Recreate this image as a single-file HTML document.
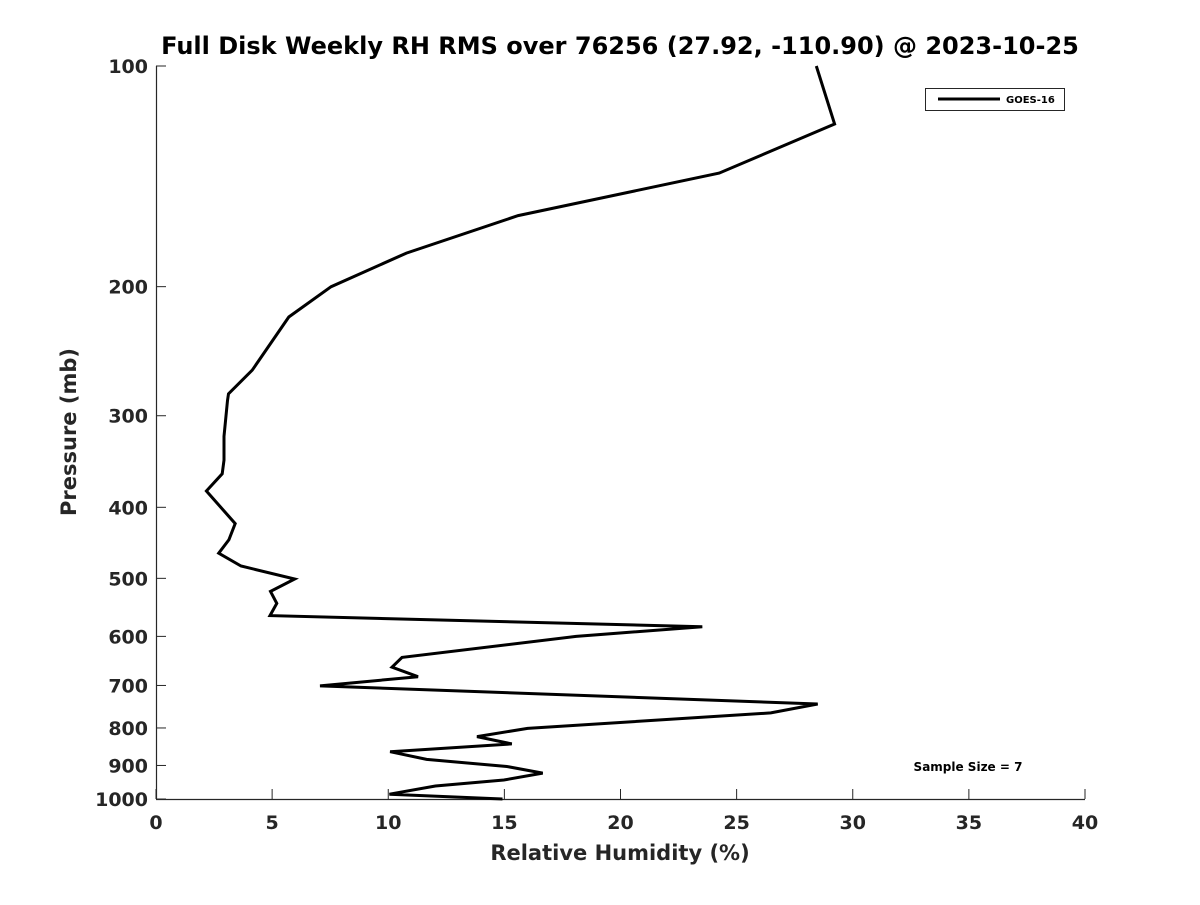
<!DOCTYPE html>
<html><head><meta charset="utf-8"><style>
html,body{margin:0;padding:0;background:#fff;}
svg text{font-family:"DejaVu Sans","Liberation Sans",sans-serif;font-weight:bold;fill:#262626;}
</style></head><body>
<svg id="chart" width="1200" height="900" xmlns="http://www.w3.org/2000/svg">
<rect width="1200" height="900" fill="#fff"/>
<text x="620" y="54" text-anchor="middle" font-size="24" style="fill:#000">Full Disk Weekly RH RMS over 76256 (27.92, -110.90) @ 2023-10-25</text>
<g id="axes"></g>
<g id="series"></g>
<g>
<rect x="925.5" y="88.5" width="139" height="22" fill="#fff" stroke="#262626" stroke-width="1"/>
<line x1="938" y1="99" x2="1000" y2="99" stroke="#000" stroke-width="3"/>
<text x="1006" y="103" font-size="10" style="fill:#000">GOES-16</text>
</g>
<text x="968" y="771" text-anchor="middle" font-size="12" style="fill:#000">Sample Size = 7</text>
<text x="620" y="860" text-anchor="middle" font-size="21">Relative Humidity (%)</text>
<text transform="translate(76,432) rotate(-90)" text-anchor="middle" font-size="21">Pressure (mb)</text>
</svg>
<script>
const rhValues=[28.43,29.22,24.25,15.59,10.78,7.54,5.72,4.14,3.12,3.08,2.93,2.93,2.85,2.17,3.41,3.14,2.70,3.66,5.97,4.93,5.20,4.91,23.52,18.09,10.59,10.16,11.28,7.06,28.49,26.47,16.0,13.82,15.32,10.08,11.65,15.11,16.65,14.98,12.03,10.05,14.92];
const pressureLevels=[100,120,140,160,180,200,220,260,280,286,320,345,360,380,421,443,462,481,501,521,541,562,582,600,641,661,681,701,742,763,801,822,841,862,883,903,922,942,960,985,1000];
const xTicks=[0,5,10,15,20,25,30,35,40];
const yTicks=[100,200,300,400,500,600,700,800,900,1000];
const L=156,R=1085,T=66,B=799;
function xs(v){return L+(v-0)/(40-0)*(R-L);}
function ys(p){return T+(Math.log10(p)-2)/(3-2)*(B-T);}
const NS="http://www.w3.org/2000/svg";
const ax=document.getElementById('axes');
function mk(tag,attrs,parent){const e=document.createElementNS(NS,tag);for(const k in attrs)e.setAttribute(k,attrs[k]);parent.appendChild(e);return e;}
const xl=mk('line',{x1:L,y1:B+0.5,x2:R,y2:B+0.5,stroke:'#262626','stroke-width':1.2},ax);


const yl=mk('line',{x1:L+0.5,y1:T,x2:L+0.5,y2:B,stroke:'#262626','stroke-width':1.2},ax);


xTicks.forEach(v=>{
  const x=xs(v);
  const t=mk('line',{x1:x,y1:B,x2:x,y2:B-10,stroke:'#262626','stroke-width':1},ax);
  
  
  const tx=mk('text',{x:x,y:B+30,'text-anchor':'middle','font-size':19},ax);
  tx.textContent=String(v);
  
  
});
yTicks.forEach(p=>{
  const y=ys(p);
  const t=mk('line',{x1:L,y1:y,x2:L+10,y2:y,stroke:'#262626','stroke-width':1},ax);
  
  
  const tx=mk('text',{x:L-8,y:y+7,'text-anchor':'end','font-size':19},ax);
  tx.textContent=String(p);
  
  
});
const pts=rhValues.map((v,i)=>xs(v).toFixed(1)+','+ys(pressureLevels[i]).toFixed(1)).join(' ');
const line=mk('polyline',{points:pts,fill:'none',stroke:'#000','stroke-width':3,'stroke-linejoin':'miter'},document.getElementById('series'));


</script>
</body></html>
